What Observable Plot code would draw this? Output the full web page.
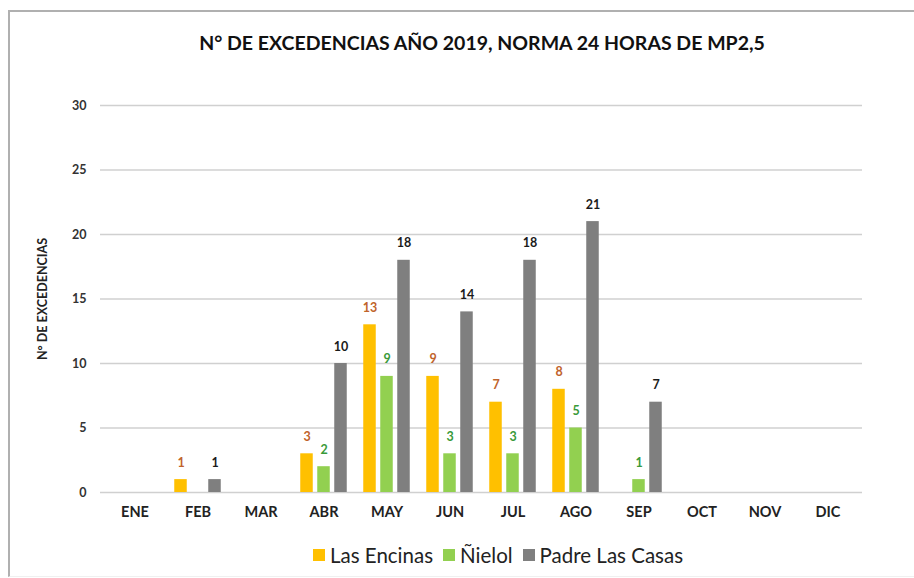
<!DOCTYPE html>
<html>
<head>
<meta charset="utf-8">
<script src="https://cdn.jsdelivr.net/npm/d3@7"></script>
<script src="https://cdn.jsdelivr.net/npm/@observablehq/plot@0.6"></script>
<style>
  html, body { margin: 0; padding: 0; background: #fff; }
  #wrap { position: relative; width: 914px; height: 578px; overflow: hidden; font-family: Lato, "Open Sans", sans-serif; }
  #frame { position: absolute; left: 8px; top: 10px; width: 920px; height: 564px; border-top: 2px solid #b0b0b0; border-left: 2px solid #b0b0b0; border-bottom: 1px solid #f0f0f0; }
  #title { position: absolute; left: 0; width: 964px; top: 31px; text-align: center; font-weight: bold; font-size: 19.5px; color: #111; }
  #chart { position: absolute; left: 0; top: 70px; }
  #legend { position: absolute; left: 313px; top: 543px; display: flex; align-items: center; font-size: 20.5px; color: #222; white-space: nowrap; }
  .sw { display: inline-block; width: 12px; height: 12px; margin-right: 5px; }
  .item { display: flex; align-items: center; margin-right: 10px; }
</style>
</head>
<body>
<div id="wrap">
  <div id="frame"></div>
  <div id="title">N° DE EXCEDENCIAS AÑO 2019, NORMA 24 HORAS DE MP2,5</div>
  <div id="chart"></div>
  <div id="legend"></div>
</div>
<script>
const months = ["ENE","FEB","MAR","ABR","MAY","JUN","JUL","AGO","SEP","OCT","NOV","DIC"];
const seriesNames = ["Las Encinas","Ñielol","Padre Las Casas"];
const lasEncinas   = [null, 1, null, 3, 13, 9, 7, 8, null, null, null, null];
const nielol       = [null, null, null, 2, 9, 3, 3, 5, 1, null, null, null];
const padreLasCasas= [null, 1, null, 10, 18, 14, 18, 21, 7, null, null, null];
const barColors   = ["#ffc000", "#92d050", "#7f7f7f"];
const labelColors = ["#c0632b", "#3a9a3a", "#1a1a1a"];
const yTicks = [0, 5, 10, 15, 20, 25, 30];

const W = 914, mL = 100, mR = 52;
const band = (W - mL - mR) / months.length;
const barW = 13, gap = 4;
const groupW = 3 * barW + 2 * gap;
const outer = (band - groupW) / 2;

const allSeries = [lasEncinas, nielol, padreLasCasas];
const seriesData = allSeries.map((arr, s) =>
  months.map((m, i) => ({month: m, series: seriesNames[s], value: arr[i]})).filter(d => d.value != null));

const barMarks = [];
const textMarks = [];
seriesData.forEach((d, s) => {
  const left = outer + s * (barW + gap);
  const right = band - left - barW;
  barMarks.push(Plot.barY(d, {x: "month", y: "value", fill: barColors[s], insetLeft: left, insetRight: right}));
  textMarks.push(Plot.text(d, {x: "month", y: "value", text: v => String(v.value), fill: labelColors[s],
    dx: left + barW / 2 - band / 2, dy: -13, lineAnchor: "bottom", fontWeight: "bold", fontSize: 12.5}));
});

const chart = Plot.plot({
  width: W,
  height: 460,
  marginLeft: mL,
  marginRight: mR,
  marginTop: 35,
  marginBottom: 38,
  style: {fontFamily: "Lato, 'Open Sans', sans-serif", background: "transparent"},
  x: {domain: months, padding: 0, label: null},
  y: {domain: [0, 30], label: null},
  marks: [
    Plot.ruleY(yTicks, {stroke: "#d0d0d0", strokeWidth: 1.5}),
    ...barMarks,
    ...textMarks,
    Plot.axisX({tickSize: 0, tickPadding: 14, fontSize: 14.5, fontWeight: "bold", fill: "#222", label: null}),
    Plot.axisY({ticks: yTicks, tickSize: 0, tickPadding: 14, fontSize: 12.5, fontWeight: "bold", fill: "#333",
      label: "N° DE EXCEDENCIAS", labelAnchor: "center", labelArrow: "none", labelOffset: 62})
  ]
});
document.getElementById("chart").appendChild(chart);
chart.querySelectorAll("g[aria-label='y-axis label'] text").forEach(t => {
  t.setAttribute("font-weight", "bold"); t.setAttribute("font-size", "12.5"); t.setAttribute("fill", "#222");
});

const legend = document.getElementById("legend");
seriesNames.forEach((n, i) => {
  const it = document.createElement("span");
  it.className = "item";
  it.innerHTML = `<span class="sw" style="background:${barColors[i]}"></span>${n}`;
  legend.appendChild(it);
});
</script>
</body>
</html>
